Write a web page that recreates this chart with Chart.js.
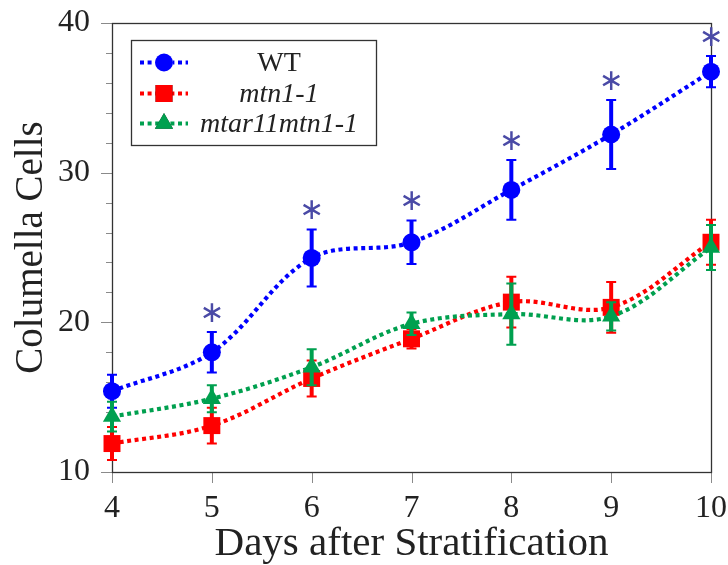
<!DOCTYPE html>
<html>
<head>
<meta charset="utf-8">
<script src="https://cdn.jsdelivr.net/npm/chart.js@4.4.1/dist/chart.umd.min.js"></script>
<style>
  html, body { margin: 0; padding: 0; background: #ffffff; }
  #wrap { width: 728px; height: 565px; position: relative; }
</style>
</head>
<body>
<div id="wrap"><canvas id="c" width="728" height="565"></canvas></div>
<script>
// ---- data ----
const days = [4, 5, 6, 7, 8, 9, 10];
const seriesNames = ['WT', 'mtn1-1', 'mtar11mtn1-1'];
const wtMean = [15.4, 18.0, 24.3, 25.35, 28.85, 32.55, 36.75];
const wtErr = [1.1, 1.35, 1.9, 1.45, 2.0, 2.3, 1.05];
const mtnMean = [11.9, 13.1, 16.25, 18.9, 21.35, 21.0, 25.35];
const mtnErr = [1.1, 1.2, 1.2, 0.65, 1.7, 1.7, 1.5];
const mtarMean = [13.7, 14.9, 17.0, 19.9, 20.55, 20.4, 25.0];
const mtarErr = [1.0, 0.9, 1.2, 0.75, 2.05, 0.95, 1.5];
const significance = ['', '*', '*', '*', '*', '*', '*'];
const xTicks = [4, 5, 6, 7, 8, 9, 10];
const yTicks = [10, 20, 30, 40];
const yMinorStep = 2;

const BLUE = '#0000ff', RED = '#ff0000', GREEN = '#00a04f';
const SERIF = '"Liberation Serif", "Times New Roman", serif';

function pts(vals) { return days.map((d, i) => ({ x: d, y: vals[i] })); }

const errs = [wtErr, mtnErr, mtarErr];

const errorBars = {
  id: 'errorBars',
  beforeDatasetDraw(chart, args) {
    const i = args.index;
    const ds = chart.data.datasets[i];
    const e = errs[i];
    const ys = chart.scales.y, xs = chart.scales.x;
    const ctx = chart.ctx;
    ctx.save();
    ctx.strokeStyle = ds.borderColor;
    ds.data.forEach((p, k) => {
      const px = xs.getPixelForValue(p.x);
      const top = ys.getPixelForValue(p.y + e[k]);
      const bot = ys.getPixelForValue(p.y - e[k]);
      ctx.lineWidth = 4;
      ctx.beginPath(); ctx.moveTo(px, top); ctx.lineTo(px, bot); ctx.stroke();
      ctx.lineWidth = 2;
      ctx.beginPath();
      ctx.moveTo(px - 5, top); ctx.lineTo(px + 5, top);
      ctx.moveTo(px - 5, bot); ctx.lineTo(px + 5, bot);
      ctx.stroke();
    });
    ctx.restore();
  }
};

const frame = {
  id: 'frame',
  beforeDatasetsDraw(chart) {
    const { ctx, chartArea: a, scales: { x, y } } = chart;
    ctx.save();
    ctx.strokeStyle = '#8a8a8a';
    ctx.lineWidth = 1;
    ctx.beginPath();
    for (let v = y.min; v <= y.max + 1e-9; v += yMinorStep) {
      const py = Math.round(y.getPixelForValue(v)) + 0.5;
      const len = yTicks.includes(v) ? 11 : 6;
      ctx.moveTo(a.left - len, py); ctx.lineTo(a.left, py);
    }
    xTicks.forEach(v => {
      const px = Math.round(x.getPixelForValue(v)) + 0.5;
      ctx.moveTo(px, a.bottom); ctx.lineTo(px, a.bottom + 11);
    });
    ctx.stroke();
    ctx.strokeStyle = '#333333';
    ctx.lineWidth = 1.3;
    ctx.strokeRect(Math.round(a.left) + 0.5, Math.round(a.top) + 0.5,
                   Math.round(a.right - a.left), Math.round(a.bottom - a.top));
    ctx.restore();
  }
};

const stars = {
  id: 'stars',
  afterDatasetsDraw(chart) {
    const { ctx, scales: { x, y } } = chart;
    ctx.save();
    ctx.fillStyle = '#4a4aa6';
    ctx.font = '30px "DejaVu Sans"';
    ctx.textAlign = 'center';
    ctx.textBaseline = 'middle';
    significance.forEach((s, k) => {
      if (!s) return;
      const px = x.getPixelForValue(days[k]);
      const py = y.getPixelForValue(wtMean[k] + wtErr[k]) - 20;
      ctx.fillText('\u2217', px, py + 2);
    });
    ctx.restore();
  }
};

const legendBox = {
  id: 'legendBox',
  afterDraw(chart) {
    const ctx = chart.ctx;
    const L = 131, T = 40, R = 376, B = 145;
    ctx.save();
    ctx.fillStyle = '#ffffff';
    ctx.fillRect(L, T, R - L, B - T);
    ctx.strokeStyle = '#333333';
    ctx.lineWidth = 1.3;
    ctx.strokeRect(L + 0.5, T + 0.5, R - L, B - T);
    const rows = [62.5, 93.5, 123.5];
    chart.data.datasets.forEach((ds, i) => {
      const yy = rows[i];
      ctx.strokeStyle = ds.borderColor;
      ctx.lineWidth = 4;
      ctx.setLineDash([4, 3.6]);
      ctx.beginPath(); ctx.moveTo(140, yy); ctx.lineTo(188, yy); ctx.stroke();
      ctx.setLineDash([]);
      Chart.helpers.drawPoint(ctx, {
        pointStyle: ds.pointStyle, radius: ds.pointRadius, rotation: 0, borderWidth: 0
      }, 164, yy);
      ctx.fillStyle = ds.borderColor;
      ctx.fill();
      ctx.fillStyle = '#222222';
      ctx.font = (i === 0 ? '' : 'italic ') + '28px ' + SERIF;
      ctx.textAlign = 'center';
      ctx.textBaseline = 'middle';
      ctx.fillText(seriesNames[i], 279, yy + 1);
    });
    ctx.restore();
  }
};

function mkDs(label, vals, color, style, radius, order) {
  return {
    label, data: pts(vals),
    borderColor: color, backgroundColor: color,
    pointBackgroundColor: color, pointBorderColor: color, pointBorderWidth: 0,
    pointStyle: style, pointRadius: radius, pointHoverRadius: radius,
    borderWidth: 4.2, borderDash: [4, 3.6], borderCapStyle: 'butt',
    tension: 0.35, fill: false, clip: false, order
  };
}

new Chart(document.getElementById('c'), {
  type: 'line',
  data: {
    datasets: [
      mkDs(seriesNames[0], wtMean, BLUE, 'circle', 9, 3),
      mkDs(seriesNames[1], mtnMean, RED, 'rect', 12, 2),
      mkDs(seriesNames[2], mtarMean, GREEN, 'triangle', 10.5, 1)
    ]
  },
  options: {
    responsive: false,
    animation: false,
    devicePixelRatio: 1,
    layout: { padding: { left: 0, right: 17, top: 23, bottom: 0 } },
    plugins: { legend: { display: false }, tooltip: { enabled: false } },
    scales: {
      x: {
        type: 'linear', min: 4, max: 10,
        afterFit(s) { s.height = 93; s.paddingLeft = 0; s.paddingRight = 0; },
        afterBuildTicks(s) { s.ticks = xTicks.map(v => ({ value: v })); },
        grid: { display: false, drawTicks: false },
        border: { display: false },
        ticks: { color: '#222', font: { family: SERIF, size: 32 }, padding: 17, maxRotation: 0 },
        title: { display: true, text: 'Days after Stratification', color: '#222',
                 font: { family: SERIF, size: 41, lineHeight: 1.0 }, padding: { top: 0, bottom: 0 } }
      },
      y: {
        type: 'linear', min: 10, max: 40,
        afterFit(s) { s.width = 112; s.paddingTop = 0; s.paddingBottom = 0; },
        afterBuildTicks(s) { s.ticks = yTicks.map(v => ({ value: v })); },
        grid: { display: false, drawTicks: false },
        border: { display: false },
        ticks: { color: '#222', font: { family: SERIF, size: 32 }, padding: 22 },
        title: { display: true, text: 'Columella Cells', color: '#222',
                 font: { family: SERIF, size: 39 }, padding: { top: 8, bottom: 0 } }
      }
    }
  },
  plugins: [frame, errorBars, stars, legendBox]
});
</script>
</body>
</html>
